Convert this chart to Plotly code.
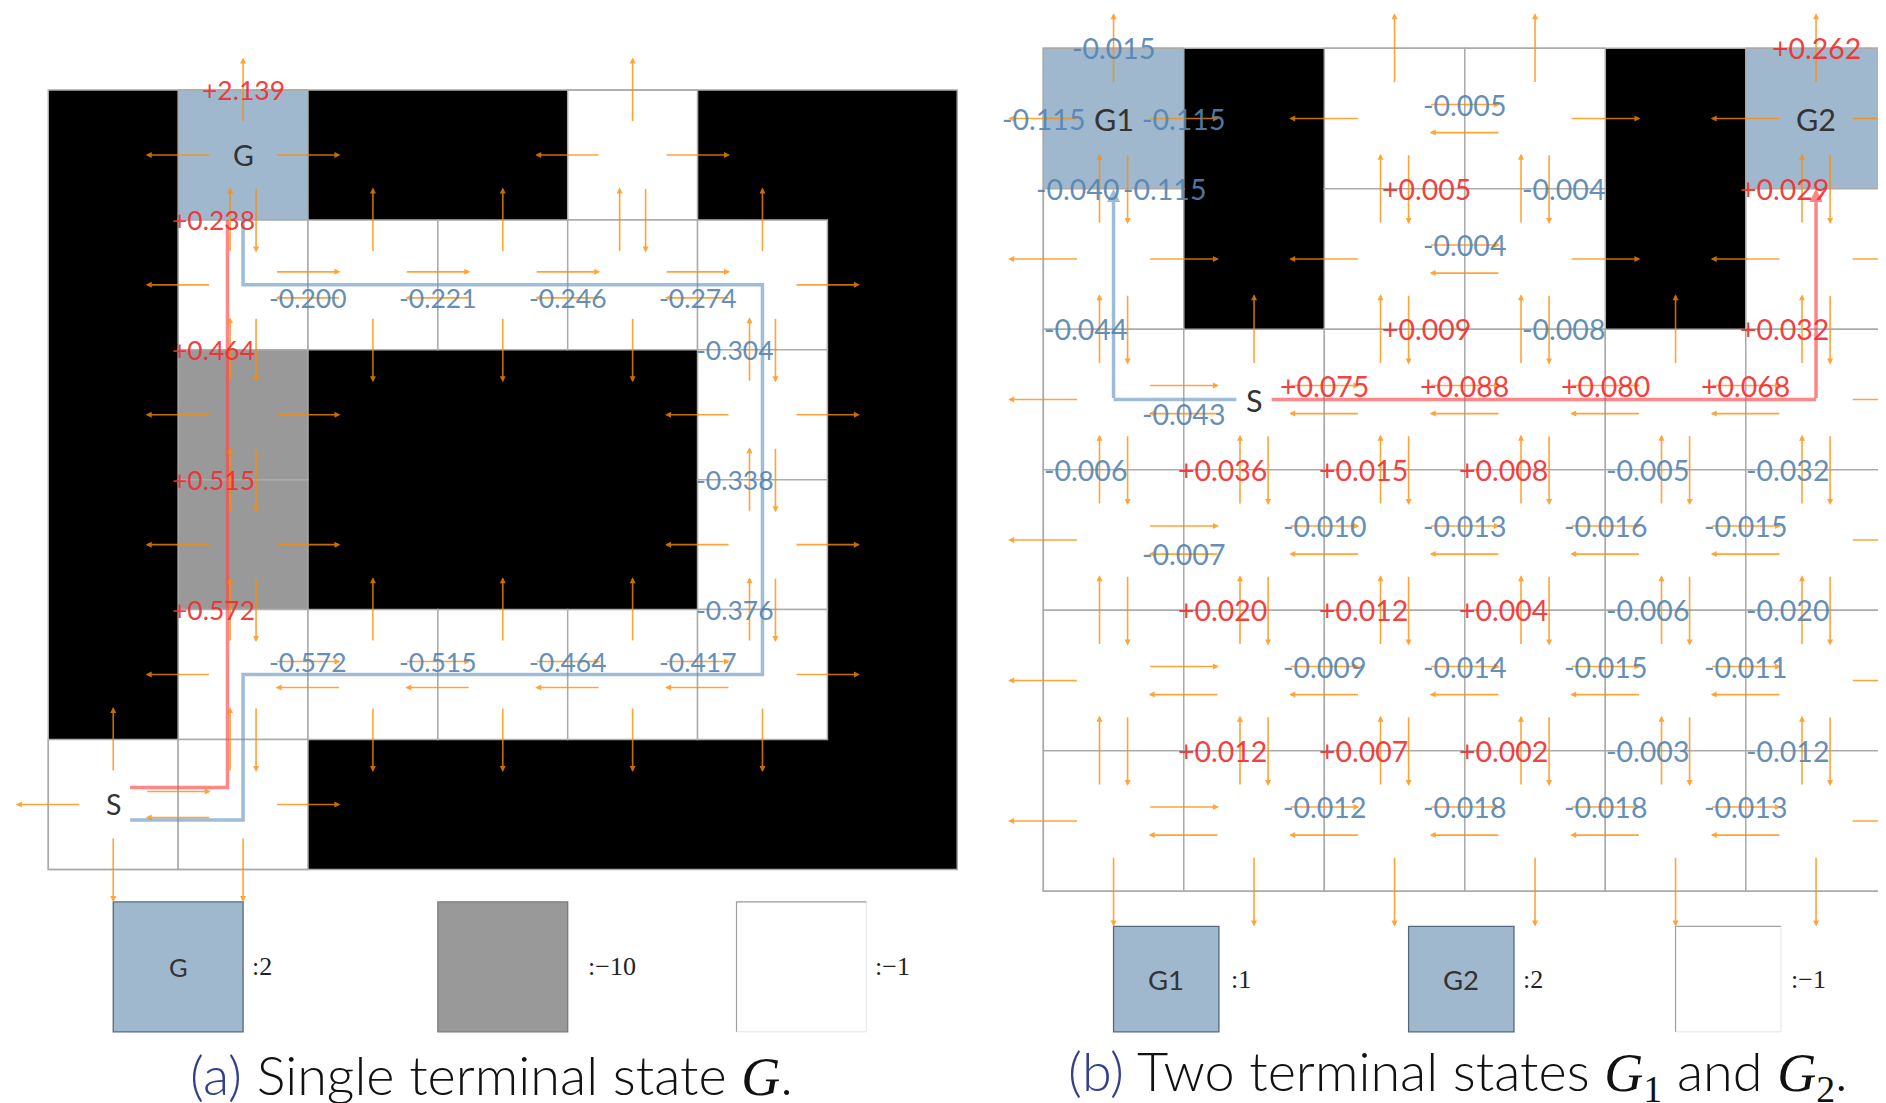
import plotly.graph_objects as go

W, H = 1886, 1103
PAGE_MARGIN = 8          # default <body> margin of the html page
FIG_W, FIG_H = W - PAGE_MARGIN, H - PAGE_MARGIN

# ---------------- data ----------------
# '#' wall (black), 'G' goal, 'S' start, 'X' penalty cell (gray), '.' free
GRID_A = [
    "#G##.##",
    "#.....#",
    "#X###.#",
    "#X###.#",
    "#.....#",
    "S.#####",
]
# 'A' = G1, 'B' = G2
GRID_B = [
    "A#..#B",
    ".#..#.",
    ".S....",
    "......",
    "......",
    "......",
]
CELL_TEXT_A = {"G": "G", "S": "S"}
CELL_TEXT_B = {"A": "G1", "B": "G2", "S": "S"}

# (row, col, action, value) : value shown on the arrow leaving (row, col)
LABELS_A = [
    (0, 1, "up", 2.139), (1, 1, "up", 0.238), (2, 1, "up", 0.464),
    (3, 1, "up", 0.515), (4, 1, "up", 0.572),
    (1, 2, "left", -0.200), (1, 3, "left", -0.221), (1, 4, "left", -0.246),
    (1, 5, "left", -0.274),
    (2, 5, "up", -0.304), (3, 5, "up", -0.338), (4, 5, "up", -0.376),
    (4, 1, "right", -0.572), (4, 2, "right", -0.515), (4, 3, "right", -0.464),
    (4, 4, "right", -0.417),
]
LABELS_B = [
    (0, 0, "up", -0.015), (0, 0, "left", -0.115), (0, 0, "right", -0.115),
    (0, 0, "down", -0.115), (1, 0, "up", -0.040), (0, 5, "up", 0.262),
    (0, 2, "right", -0.005), (1, 2, "right", -0.004),
    (0, 2, "down", 0.005), (0, 3, "down", -0.004),
    (1, 2, "down", 0.009), (1, 3, "down", -0.008),
    (1, 5, "up", 0.029), (2, 5, "up", 0.032), (2, 0, "up", -0.044),
    (2, 1, "left", -0.043), (2, 1, "right", 0.075), (2, 2, "right", 0.088),
    (2, 3, "right", 0.080), (2, 4, "right", 0.068),
    (3, 0, "up", -0.006), (3, 1, "up", 0.036), (3, 2, "up", 0.015),
    (3, 3, "up", 0.008), (3, 4, "up", -0.005), (3, 5, "up", -0.032),
    (3, 1, "left", -0.007), (3, 1, "right", -0.010), (3, 2, "right", -0.013),
    (3, 3, "right", -0.016), (3, 4, "right", -0.015),
    (4, 1, "up", 0.020), (4, 2, "up", 0.012), (4, 3, "up", 0.004),
    (4, 4, "up", -0.006), (4, 5, "up", -0.020),
    (4, 1, "right", -0.009), (4, 2, "right", -0.014), (4, 3, "right", -0.015),
    (4, 4, "right", -0.011),
    (5, 1, "up", 0.012), (5, 2, "up", 0.007), (5, 3, "up", 0.002),
    (5, 4, "up", -0.003), (5, 5, "up", -0.012),
    (5, 1, "right", -0.012), (5, 2, "right", -0.018), (5, 3, "right", -0.018),
    (5, 4, "right", -0.013),
]

# trajectories as sequences of cells (row, col)
PATHS_A = {
    "red": [(5, 0), (5, 1), (0, 1)],
    "blue": [(5, 0), (5, 1), (4, 1), (4, 5), (1, 5), (1, 1), (0, 1)],
}
PATHS_B = {
    "red": [(2, 1), (2, 5), (0, 5)],
    "blue": [(2, 1), (2, 0), (0, 0)],
}

LEGEND_A_NAMES = ["G", "", ""]
LEGEND_A_REWARDS = ["2", "\u221210", "\u22121"]
LEGEND_B_NAMES = ["G1", "G2", ""]
LEGEND_B_REWARDS = ["1", "2", "\u22121"]

SERIF_SPAN = "<span style=\"font-family:Liberation Serif\">"
CAPTION_A = ("(a)", f"Single terminal state {SERIF_SPAN}<i>G</i></span>.")
CAPTION_B = ("(b)", f"Two terminal states {SERIF_SPAN}<i>G</i><sub>1</sub></span>"
             f" and {SERIF_SPAN}<i>G</i><sub>2</sub></span>.")

# ---------------- style / layout ----------------
ORANGE = "rgba(255,140,0,0.78)"
RED_TXT = "rgba(242,45,45,0.92)"
BLUE_TXT = "rgba(85,132,178,0.92)"
GRIDLINE = "#ABABAB"
GOAL_FILL = "#9FB8CE"
PEN_FILL = "#999999"
PATH_COL = {"red": "rgba(255,70,70,0.65)", "blue": "rgba(95,145,190,0.6)"}
SANS = "Lato, 'Open Sans', sans-serif"

PANELS = {
    "a": dict(grid=GRID_A, x0=48.3, y0=90.0, cw=129.85, ch=129.9, xa="x", ya="y",
              fs=26.5, txt=CELL_TEXT_A, labels=LABELS_A, paths=PATHS_A,
              lanes={"red": [-0.13, -0.12], "blue": [0.12, 0, 0, 0, 0, 0]},
              gap=0.13, head=False,
              leg_names=LEGEND_A_NAMES, leg_rewards=LEGEND_A_REWARDS,
              leg_x=[0.5, 3.0, 5.3], leg_w=1.0, leg_y=6.25, leg_h=1.0,
              leg_gap=[0.05, 0.14, 0.05], leg_fill=[GOAL_FILL, PEN_FILL, "white"],
              nudge={}),
    "b": dict(grid=GRID_B, x0=1043.3, y0=48.3, cw=140.5, ch=140.5, xa="x2", ya="y2",
              fs=28.5, txt=CELL_TEXT_B, labels=LABELS_B, paths=PATHS_B,
              lanes={"red": [0, 0], "blue": [0, 0]},
              gap=0.126, head=True,
              leg_names=LEGEND_B_NAMES, leg_rewards=LEGEND_B_REWARDS,
              leg_x=[0.5, 2.6, 4.5], leg_w=0.75, leg_y=6.25, leg_h=0.75,
              leg_gap=[0.07, 0.05, 0.06], leg_fill=[GOAL_FILL, GOAL_FILL, "white"],
              nudge={(0, 0, "down"): 0.157, (1, 0, "up"): -0.053}),
}

DIRS = {"up": (0, -1), "down": (0, 1), "left": (-1, 0), "right": (1, 0)}
LANE = {"up": (-0.1, 0.0), "down": (0.1, 0.0), "right": (0.0, -0.1), "left": (0.0, 0.1)}


def is_free(grid, r, c):
    return 0 <= r < len(grid) and 0 <= c < len(grid[0]) and grid[r][c] != "#"


def path_points(cells, lanes, start_gap):
    segs = []
    for (r1, c1), (r2, c2), lane in zip(cells[:-1], cells[1:], lanes):
        if r1 == r2:
            segs.append(("h", r1 + 0.5 + lane, c1, c2))
        else:
            segs.append(("v", c1 + 0.5 + lane, r1, r2))
    pts = []
    k, coord, a, b = segs[0]
    s = 1 if b > a else -1
    pts.append((a + 0.5 + s * start_gap, coord) if k == "h" else (coord, a + 0.5 + s * start_gap))
    for s1, s2 in zip(segs[:-1], segs[1:]):
        pts.append((s2[1], s1[1]) if s1[0] == "h" else (s1[1], s2[1]))
    k, coord, a, b = segs[-1]
    s = 1 if b > a else -1
    end = b + 0.5 - s * 0.5
    pts.append((end, coord) if k == "h" else (coord, end))
    return pts


fig = go.Figure()
shapes, annotations = [], []

for key, P in PANELS.items():
    grid, xa, ya = P["grid"], P["xa"], P["ya"]
    nr, nc = len(grid), len(grid[0])
    # ---- cells: one black block, then the open cells ----
    shapes.append(dict(type="rect", xref=xa, yref=ya, x0=0, x1=nc, y0=0, y1=nr,
                       fillcolor="black", line=dict(width=0), layer="below"))
    for r in range(nr):
        for c in range(nc):
            ch = grid[r][c]
            if ch == "#":
                continue
            fill = GOAL_FILL if ch in "GAB" else (PEN_FILL if ch == "X" else "white")
            shapes.append(dict(type="rect", xref=xa, yref=ya, x0=c, x1=c + 1, y0=r, y1=r + 1,
                               fillcolor=fill, line=dict(color=GRIDLINE, width=1.5), layer="below"))
    shapes.append(dict(type="rect", xref=xa, yref=ya, x0=0, x1=nc, y0=0, y1=nr,
                       fillcolor="rgba(0,0,0,0)", line=dict(color=GRIDLINE, width=1.5), layer="below"))

    # ---- paths ----
    for name, cells in P["paths"].items():
        pts = path_points(cells, P["lanes"][name], P["gap"])
        line_pts = pts[:-1] if P["head"] else pts
        fig.add_trace(go.Scatter(x=[p[0] for p in line_pts], y=[p[1] for p in line_pts],
                                 mode="lines", xaxis=xa, yaxis=ya, hoverinfo="skip",
                                 line=dict(color=PATH_COL[name], width=3.5)))
        if P["head"]:
            annotations.append(dict(x=pts[-1][0], y=pts[-1][1], ax=pts[-2][0], ay=pts[-2][1],
                                    xref=xa, yref=ya, axref=xa, ayref=ya, text="", showarrow=True,
                                    arrowhead=2, arrowsize=0.75, arrowwidth=3.5,
                                    arrowcolor=PATH_COL[name], standoff=0, startstandoff=0))

    # ---- action arrows ----
    for r in range(nr):
        for c in range(nc):
            if grid[r][c] == "#":
                continue
            for d, (dx, dy) in DIRS.items():
                paired = is_free(grid, r + dy, c + dx)
                ox, oy = LANE[d] if paired else (0.0, 0.0)
                cx, cy = c + 0.5 + ox, r + 0.5 + oy
                annotations.append(dict(x=cx + 0.75 * dx, y=cy + 0.75 * dy,
                                        ax=cx + 0.25 * dx, ay=cy + 0.25 * dy,
                                        xref=xa, yref=ya, axref=xa, ayref=ya, text="",
                                        showarrow=True, arrowhead=2, arrowsize=0.75,
                                        arrowwidth=1.6, arrowcolor=ORANGE,
                                        standoff=0, startstandoff=0))

    # ---- cell names ----
    for r in range(nr):
        for c in range(nc):
            ch = grid[r][c]
            if ch in P["txt"]:
                annotations.append(dict(x=c + 0.5, y=r + 0.5, xref=xa, yref=ya, text=P["txt"][ch],
                                        showarrow=False, font=dict(family=SANS, size=P["fs"] + 2,
                                                                   color="#333333")))

    # ---- value labels ----
    for (r, c, d, v) in P["labels"]:
        dx, dy = DIRS[d]
        paired = is_free(grid, r + dy, c + dx)
        ox, oy = LANE[d] if paired else (0.0, 0.0)
        if d in ("left", "right"):
            x, y, anc = c + 0.5 + 0.5 * dx, r + 0.5 + oy, "center"
        else:
            y = r + 0.5 + 0.5 * dy
            if not paired:
                x, anc = c + 0.5, "center"
            elif d == "up":
                x, anc = c + 0.6, "right"
            else:
                x, anc = c + 0.4, "left"
        x += P["nudge"].get((r, c, d), 0.0)
        annotations.append(dict(x=x, y=y, xref=xa, yref=ya, text=f"{v:+.3f}", showarrow=False,
                                xanchor=anc, yanchor="middle", borderpad=0,
                                font=dict(family=SANS, size=P["fs"], weight=400,
                                          color=RED_TXT if v > 0 else BLUE_TXT)))

    # ---- legend boxes ----
    for i, (nm, rw) in enumerate(zip(P["leg_names"], P["leg_rewards"])):
        x0 = P["leg_x"][i]
        x1 = x0 + P["leg_w"]
        y0 = P["leg_y"]
        y1 = y0 + P["leg_h"]
        fill = P["leg_fill"][i]
        if fill == "white":
            shapes.append(dict(type="rect", xref=xa, yref=ya, x0=x0, x1=x1, y0=y0, y1=y1,
                               fillcolor="white", line=dict(color="#E6E6E6", width=1), layer="below"))
            shapes.append(dict(type="path", xref=xa, yref=ya,
                               path=f"M{x0},{y1} L{x0},{y0} L{x1},{y0}",
                               line=dict(color="#A0A0A0", width=1.2), layer="below"))
        else:
            edge = "#55687C" if fill == GOAL_FILL else "#7A7A7A"
            shapes.append(dict(type="rect", xref=xa, yref=ya, x0=x0, x1=x1, y0=y0, y1=y1,
                               fillcolor=fill, line=dict(color=edge, width=1.3), layer="below"))
        if nm:
            annotations.append(dict(x=(x0 + x1) / 2, y=(y0 + y1) / 2, xref=xa, yref=ya, text=nm,
                                    showarrow=False, font=dict(family=SANS, size=P["fs"] - 1,
                                                               color="#333333")))
        annotations.append(dict(x=x1 + P["leg_gap"][i], y=(y0 + y1) / 2, xref=xa, yref=ya,
                                text=":" + rw, showarrow=False, xanchor="left", yanchor="middle",
                                font=dict(family="Liberation Serif, serif", size=26, color="#222222")))

# ---- captions ----
for (tag, body), xc in ((CAPTION_A, 492), (CAPTION_B, 1458)):
    annotations.append(dict(x=(xc - PAGE_MARGIN) / FIG_W, y=1 - (1074 - PAGE_MARGIN) / FIG_H,
                            xref="paper", yref="paper", showarrow=False,
                            xanchor="center", yanchor="middle",
                            text=f"<span style=\"color:#33418C\">{tag}</span> {body}",
                            font=dict(family=SANS, size=54, weight=300, color="#111111")))

A, B = PANELS["a"], PANELS["b"]


def xr(P):
    x0 = P["x0"] - PAGE_MARGIN
    return [-x0 / P["cw"], (FIG_W - x0) / P["cw"]]


def yr(P):
    y0 = P["y0"] - PAGE_MARGIN
    return [(FIG_H - y0) / P["ch"], -y0 / P["ch"]]


fig.update_layout(
    width=FIG_W, height=FIG_H, margin=dict(l=0, r=0, t=0, b=0),
    paper_bgcolor="white", plot_bgcolor="rgba(0,0,0,0)", showlegend=False,
    shapes=shapes, annotations=annotations,
    xaxis=dict(domain=[0, 1], range=xr(A), visible=False, fixedrange=True),
    yaxis=dict(domain=[0, 1], range=yr(A), visible=False, fixedrange=True),
    xaxis2=dict(overlaying="x", anchor="y2", range=xr(B), visible=False, fixedrange=True),
    yaxis2=dict(overlaying="y", anchor="x2", range=yr(B), visible=False, fixedrange=True),
)

fig.write_html("out.html")
